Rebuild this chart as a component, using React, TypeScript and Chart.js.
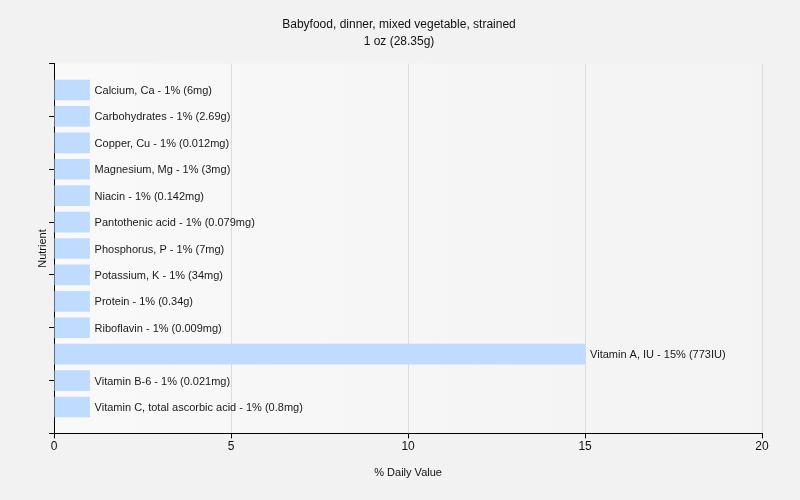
import React, { useEffect, useRef } from "react";
import { Chart, registerables } from "chart.js";

Chart.register(...registerables);

const titleLines = ["Babyfood, dinner, mixed vegetable, strained", "1 oz (28.35g)"];
const nutrients = [
  "Calcium, Ca",
  "Carbohydrates",
  "Copper, Cu",
  "Magnesium, Mg",
  "Niacin",
  "Pantothenic acid",
  "Phosphorus, P",
  "Potassium, K",
  "Protein",
  "Riboflavin",
  "Vitamin A, IU",
  "Vitamin B-6",
  "Vitamin C, total ascorbic acid",
];
const percents = [1, 1, 1, 1, 1, 1, 1, 1, 1, 1, 15, 1, 1];
const amounts = [
  "6mg",
  "2.69g",
  "0.012mg",
  "3mg",
  "0.142mg",
  "0.079mg",
  "7mg",
  "34mg",
  "0.34g",
  "0.009mg",
  "773IU",
  "0.021mg",
  "0.8mg",
];
const xTitle = "% Daily Value";
const yTitle = "Nutrient";

const FONT = "'Liberation Sans', Arial, sans-serif";

export default function App() {
  const ref = useRef<HTMLCanvasElement>(null);

  useEffect(() => {
    document.body.style.margin = "0";
    document.body.style.background = "#f2f2f2";
    const canvas = ref.current!;
    const labels = ["", ...nutrients, ""];
    const values = [null, ...percents, null];

    const bgPlugin = {
      id: "bg",
      beforeDraw(chart: any) {
        const { ctx, chartArea } = chart;
        ctx.save();
        ctx.fillStyle = "#f2f2f2";
        ctx.fillRect(0, 0, chart.width, chart.height);
        const g = ctx.createLinearGradient(chartArea.left, 0, chartArea.right, 0);
        g.addColorStop(0, "#f9f9f9");
        g.addColorStop(1, "#f3f3f3");
        ctx.fillStyle = g;
        ctx.fillRect(chartArea.left, chartArea.top, chartArea.right - chartArea.left, chartArea.bottom - chartArea.top);
        ctx.restore();
      },
    };

    const labelPlugin = {
      id: "barLabels",
      afterDatasetsDraw(chart: any) {
        const { ctx } = chart;
        const meta = chart.getDatasetMeta(0);
        ctx.save();
        ctx.font = `11px ${FONT}`;
        ctx.fillStyle = "#1a1a1a";
        ctx.textBaseline = "middle";
        ctx.textAlign = "left";
        meta.data.forEach((el: any, i: number) => {
          const k = i - 1;
          if (k < 0 || k >= nutrients.length) return;
          const text = `${nutrients[k]} - ${percents[k]}% (${amounts[k]})`;
          ctx.fillText(text, el.x + 5, el.y + 1);
        });
        ctx.restore();
      },
    };

    const chart = new Chart(canvas, {
      type: "bar",
      data: {
        labels,
        datasets: [
          {
            data: values as any,
            backgroundColor: "#bfdbff",
            borderWidth: 0,
            barThickness: 20,
          },
        ],
      },
      options: {
        indexAxis: "y",
        responsive: false,
        animation: false,
        layout: { padding: { left: 36, right: 38, top: 0, bottom: 20 } },
        plugins: {
          legend: { display: false },
          tooltip: { enabled: false },
          title: {
            display: true,
            text: titleLines,
            color: "#111",
            font: { family: FONT, size: 12, weight: "normal", lineHeight: 1.4 },
            padding: { top: 16, bottom: 14 },
          },
        },
        scales: {
          x: {
            type: "linear",
            min: 0,
            max: 20,
            ticks: { stepSize: 5, color: "#111", font: { family: FONT, size: 12 }, padding: 1 },
            grid: { color: "#dcdcdc", tickColor: "#000", tickLength: 5, drawTicks: true },
            border: { display: true, color: "#000", width: 1 },
            title: {
              display: true,
              text: xTitle,
              color: "#111",
              font: { family: FONT, size: 11 },
              padding: { top: 12, bottom: 0 },
            },
          },
          y: {
            type: "category",
            offset: false,
            ticks: { display: false },
            grid: {
              offset: false,
              drawOnChartArea: false,
              drawTicks: true,
              tickLength: 5,
              color: (c: any) => (c.index % 2 === 0 ? "#000" : "rgba(0,0,0,0)"),
            },
            border: { display: true, color: "#000", width: 1 },
            title: {
              display: true,
              text: yTitle,
              color: "#111",
              font: { family: FONT, size: 11 },
              padding: { top: 0, bottom: 0 },
            },
          },
        },
      },
      plugins: [bgPlugin, labelPlugin],
    });
    return () => chart.destroy();
  }, []);

  return <canvas ref={ref} width={800} height={500} style={{ display: "block" }} />;
}
